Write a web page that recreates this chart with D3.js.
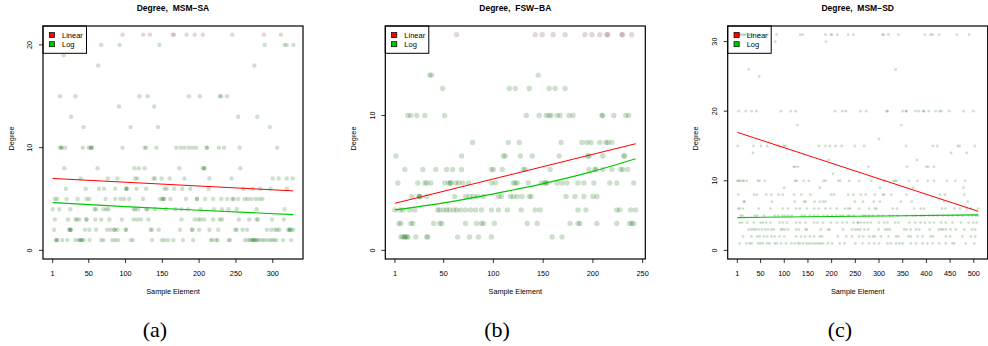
<!DOCTYPE html>
<html>
<head>
<meta charset="utf-8">
<script src="https://cdn.jsdelivr.net/npm/d3@7"></script>
<style>
  body { margin: 0; background: #fff; }
  svg { display: block; }
  text { font-family: "Liberation Sans", Arial, sans-serif; fill: #000; }
</style>
</head>
<body>
<svg id="chart" width="988" height="346"></svg>
<script>
// Each row: [degree, sample elements that have that degree]
const msmSA = [
  [21, [96,124,133,164,166,183,194,205,245,288,311]],
  [20, [67,92,146,289,316,319,328]],
  [19, [16]],
  [18, [63,275]],
  [15, [11,32,119,130,186,201,228,230,238]],
  [14, [91,139]],
  [13, [26,253,279]],
  [12, [43,107,144,296]],
  [10, [11,13,13,18,42,50,53,53,55,96,126,128,142,169,175,180,186,191,196,210,211,227,234,255,306]],
  [8, [17,62,112,118,126,173,205,207,207,256]],
  [7, [39,76,89,113,116,138,140,149,160,180,214,244,300,308,319,327]],
  [6, [19,46,64,71,86,101,101,102,115,128,153,156,166,177,188,213,260,273,283,297,319]],
  [5, [4,7,20,35,47,51,73,86,93,98,105,124,147,150,152,152,161,182,197,197,208,219,230,238,245,247,253,262,266,271,277,282,286]],
  [4, [1,10,25,58,60,70,74,77,111,113,117,128,130,140,155,168,176,185,202,220,231,240,251,278,316]],
  [3, [4,22,32,34,37,47,47,59,67,78,95,111,116,121,131,176,194,199,202,207,219,228,231,254,268,278,280,299,315]],
  [2, [3,23,25,25,26,45,51,60,75,80,85,85,89,100,101,134,136,145,174,190,191,200,214,226,249,251,259,265,292,298,303,306,309,321,323,323,325,328]],
  [1, [5,7,7,14,21,32,36,39,39,41,43,51,67,70,82,86,90,107,110,136,149,153,158,165,178,192,216,218,223,225,240,242,262,266,269,272,272,274,276,276,279,281,285,288,292,296,299,302,305,314,325]]
];
const fswBA = [
  [16, [63,142,149,160,172,192,199,207,214,215,229,230,239]],
  [13, [36,38,145]],
  [12, [49,116,122,136,156,162,172]],
  [10, [14,17,23,31,51,133,146,153,156,158,164,167,176,180,209,210,221,233,236]],
  [8, [79,115,126,168,189,194,198,207,213,215,219]],
  [7, [2,68,110,112,127,139,166,195,196,210,231,232]],
  [6, [11,29,42,53,59,68,98,100,109,130,132,157,196,202,203,210,219,228,230,235]],
  [5, [4,24,31,33,37,51,55,57,57,62,65,69,75,98,102,120,122,124,135,148,152,152,154,164,169,174,185,191,201,217,224,241]],
  [4, [18,25,26,26,33,61,72,76,80,84,90,105,108,117,120,124,129,136,138,173,182,191,200,204]],
  [3, [1,6,9,16,21,44,46,50,53,56,60,63,67,72,77,82,88,98,105,114,128,142,147,185,193,224,227,238,243]],
  [2, [5,7,17,19,40,46,48,72,83,88,90,101,134,144,177,185,187,204,224,237,239,241]],
  [1, [7,9,11,11,13,14,22,33,34,64,76,85,98,159,169]]
];
const msmSD = [
  [31, [4,7,11,15,18,26,29,34,48,65,84,134,139,187,198,201,212,235,246,307,310,320,341,397,409,413,427,464,490]],
  [30, [81,188]],
  [26, [25,335]],
  [25, [47]],
  [20, [4,19,31,41,93,114,124,207,223,230,261,273,316,318,350,357,358,377,384,393,395,405,420,428,432,448,478,499]],
  [18, [128,347]],
  [16, [300]],
  [15, [2,35,51,64,87,99,103,173,187,196,208,221,249,269,357,414,423,466,470,502]],
  [14, [34,452,485]],
  [13, [194,380]],
  [12, [120,123,129,278,359,400,404,416]],
  [11, [203]],
  [10, [1,4,7,12,15,21,44,48,59,123,126,141,152,183,187,214,218,237,258,284,312,330,334,337,363,381,403,416,443,461,482]],
  [9, [100,175,302,372,478]],
  [8, [3,36,42,62,73,88,97,121,136,155,199,205,235,246,262,272,291,308,311,326,358,428,439,480]],
  [7, [15,16,74,122,142,145,164,175,182,187,249,266,289,302,346,369,437,487]],
  [6, [3,6,13,46,71,97,108,125,133,148,163,173,187,197,211,228,235,239,258,279,291,295,329,338,374,388,395,433,440,459,471,485,494,509]],
  [5, [8,12,38,43,57,80,87,96,102,109,116,137,143,154,163,171,183,191,201,210,218,224,234,238,247,267,272,279,287,298,308,322,329,339,357,371,378,388,395,406,414,424,435,445,455,466,476,489,497,504,509]],
  [4, [6,11,22,36,50,55,62,71,90,97,106,125,133,145,163,170,182,198,211,223,232,246,255,256,262,269,276,283,300,311,318,334,341,364,376,388,397,407,416,431,441,455,473,489,499,506]],
  [3, [25,31,36,40,46,53,60,66,73,78,93,96,101,108,125,131,145,148,177,192,196,224,243,250,255,260,269,277,299,313,318,323,353,358,367,378,385,407,426,431,435,441,451,462,480,496,503]],
  [2, [13,31,43,48,57,64,73,80,90,100,125,135,144,154,163,175,180,213,231,243,258,267,279,287,291,304,320,336,341,362,367,381,392,409,414,441,450,476,494,503]],
  [1, [6,20,27,31,45,50,55,64,69,80,84,93,104,115,122,129,133,140,147,152,157,163,168,173,177,182,192,201,217,227,250,265,279,290,300,318,325,336,343,350,367,378,392,402,413,427,441,455,459,483,501]]
];

// fitted curves: [sample element, degree]
const linearA = [[1, 7.0], [328, 5.79]];
const logA = [[1, 4.65], [100, 4.26], [200, 3.9], [328, 3.48]];
const linearB = [[1, 3.49], [243, 7.91]];
const logB = [[1, 3.0], [50, 3.52], [100, 4.19], [150, 4.95], [200, 5.86], [243, 6.8]];
const linearC = [[1, 16.96], [509, 5.62]];
const logC = [[1, 4.71], [250, 4.9], [509, 5.1]];

const xTicksA = [1, 50, 100, 150, 200, 250, 300];
const xTicksB = [1, 50, 100, 150, 200, 250];
const xTicksC = [1, 50, 100, 150, 200, 250, 300, 350, 400, 450, 500];

const panels = [
  { title: "Degree,  MSM\u2212SA", rows: msmSA, n: 328, yMax: 21, yTicks: [0, 10, 20], xTicks: xTicksA,
    left: 43, r: 2.2, lin: linearA, log: logA, tag: "(a)", tagX: 155, pinkTop: true },
  { title: "Degree,  FSW\u2212BA", rows: fswBA, n: 243, yMax: 16, yTicks: [0, 10], xTicks: xTicksB,
    left: 385.3, r: 2.7, lin: linearB, log: logB, tag: "(b)", tagX: 497, pinkTop: true },
  { title: "Degree,  MSM\u2212SD", rows: msmSD, n: 509, yMax: 31, yTicks: [0, 10, 20, 30], xTicks: xTicksC,
    left: 727.7, r: 1.4, lin: linearC, log: logC, tag: "(c)", tagX: 840, pinkTop: false }
];

const svg = d3.select("#chart");
const plotTop = 26, plotBottom = 259, boxW = 260;

panels.forEach(p => {
  const g = svg.append("g");
  // R style 4% range extension
  const xPad = 0.04 * (p.n - 1), yPad = 0.04 * p.yMax;
  const x = d3.scaleLinear().domain([1 - xPad, p.n + xPad]).range([p.left, p.left + boxW]);
  const y = d3.scaleLinear().domain([-yPad, p.yMax + yPad]).range([plotBottom, plotTop]);

  const pts = [];
  p.rows.forEach(([deg, xs]) => xs.forEach(v => pts.push({ x: v, y: deg })));

  g.selectAll("circle.pt")
    .data(pts)
    .enter()
    .append("circle")
    .attr("class", "pt")
    .attr("cx", d => x(d.x))
    .attr("cy", d => y(d.y))
    .attr("r", p.r)
    .attr("fill", d => (p.pinkTop && d.y === p.yMax) ? "rgba(120,50,50,0.2)" : "rgba(0,100,0,0.2)");

  const line = d3.line().x(d => x(d[0])).y(d => y(d[1])).curve(d3.curveMonotoneX);
  g.append("path").attr("d", line(p.lin)).attr("fill", "none").attr("stroke", "#ff0000").attr("stroke-width", 1);
  g.append("path").attr("d", line(p.log)).attr("fill", "none").attr("stroke", "#00c800").attr("stroke-width", 1.1);

  // plot box
  g.append("rect")
    .attr("x", p.left).attr("y", plotTop)
    .attr("width", boxW).attr("height", plotBottom - plotTop)
    .attr("fill", "none").attr("stroke", "#000").attr("stroke-width", 1.2);

  // x axis
  const xAxis = g.append("g");
  p.xTicks.forEach(t => {
    xAxis.append("line").attr("x1", x(t)).attr("x2", x(t)).attr("y1", plotBottom).attr("y2", plotBottom + 4)
      .attr("stroke", "#000").attr("stroke-width", 0.8);
    xAxis.append("text").attr("x", x(t)).attr("y", 273.5).attr("dy", "0.35em")
      .attr("text-anchor", "middle").attr("font-size", 7.3).text(t);
  });

  // y axis
  const yAxis = g.append("g");
  p.yTicks.forEach(t => {
    yAxis.append("line").attr("x1", p.left - 4).attr("x2", p.left).attr("y1", y(t)).attr("y2", y(t))
      .attr("stroke", "#000").attr("stroke-width", 0.8);
    yAxis.append("text")
      .attr("transform", `translate(${p.left - 13.3},${y(t)}) rotate(-90)`)
      .attr("dy", "0.35em").attr("text-anchor", "middle").attr("font-size", 7.3).text(t);
  });

  g.append("text")
    .attr("transform", `translate(${p.left - 32},${(plotTop + plotBottom) / 2 - 4}) rotate(-90)`)
    .attr("dy", "0.35em").attr("text-anchor", "middle").attr("font-size", 7.3).text("Degree");

  g.append("text").attr("x", p.left + boxW / 2).attr("y", 291.5).attr("dy", "0.35em")
    .attr("text-anchor", "middle").attr("font-size", 7.3).text("Sample Element");

  g.append("text").attr("x", p.left + boxW / 2).attr("y", 8.5).attr("dy", "0.35em")
    .attr("text-anchor", "middle").attr("font-size", 8.5).attr("font-weight", "bold")
    .style("white-space", "pre").text(p.title);

  // legend
  const lg = g.append("g").attr("transform", `translate(${p.left},${plotTop})`);
  lg.append("rect").attr("width", 43.5).attr("height", 27.3).attr("fill", "none").attr("stroke", "#000").attr("stroke-width", 1);
  [["Linear", "#ff0000"], ["Log", "#00c800"]].forEach(([name, col], i) => {
    lg.append("rect").attr("x", 6.3).attr("y", 6.5 + i * 9.2).attr("width", 5.2).attr("height", 5)
      .attr("fill", col).attr("stroke", "#000").attr("stroke-width", 0.7);
    lg.append("text").attr("x", 19).attr("y", 9 + i * 9.2).attr("dy", "0.35em")
      .attr("font-size", 7.5).text(name);
  });

  svg.append("text").attr("x", p.tagX).attr("y", 337)
    .attr("text-anchor", "middle").attr("font-size", 22)
    .style("font-family", "'Liberation Serif', 'DejaVu Serif', serif")
    .text(p.tag);
});
</script>
</body>
</html>
